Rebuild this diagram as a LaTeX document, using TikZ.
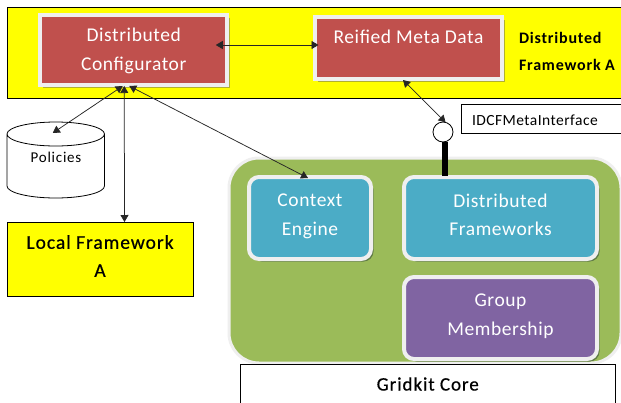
\documentclass[tikz,border=0pt]{standalone}
\usepackage{fontspec}
\setmainfont{Carlito}
\newfontfamily\widefont[LetterSpace=3]{Carlito}
\newfontfamily\widerfont[LetterSpace=5]{Carlito}
\newfontfamily\heavyfont[LetterSpace=5,FakeBold=0.6]{Carlito}
\usetikzlibrary{arrows.meta,shadows}
\definecolor{cred}{HTML}{C0504D}
\definecolor{cblue}{HTML}{4BACC6}
\definecolor{cpurple}{HTML}{8064A2}
\definecolor{cgreen}{HTML}{9BBB59}
\definecolor{rim}{HTML}{EFEFEF}
\definecolor{cyellow}{HTML}{FFFF00}
\definecolor{redshadow}{HTML}{B0B030}
\definecolor{softshadow}{HTML}{5F7A45}
\tikzset{
  card/.style={draw=rim,line width=4pt,inner sep=0pt,outer sep=0pt,text=white,align=center,
    font=\widefont\fontsize{19.5}{28.5}\selectfont},
  redcard/.style={card,rectangle,fill=cred,general shadow={shadow xshift=2.5pt,shadow yshift=-2.5pt,fill=redshadow}},
  softcard/.style={card,rectangle,rounded corners=10pt,text depth=7pt,general shadow={shadow xshift=2.5pt,shadow yshift=-2.5pt,fill=softshadow}},
  plainbox/.style={draw=black,line width=.8pt,inner sep=0pt,outer sep=0pt,align=center,text=black},
  link/.style={draw=black!85,line width=.75pt,{Triangle[length=7pt,width=8pt]}-{Triangle[length=7pt,width=8pt]}},
}
\begin{document}
\begin{tikzpicture}[x=1pt,y=-1pt]
\useasboundingbox (0,0) rectangle (621,402);
\clip (0,0) rectangle (621,402);
\fill[white] (0,0) rectangle (621,402);
\node[plainbox,fill=cyellow,rectangle,minimum width=620pt,minimum height=91pt] (band) at (317,52.5) {};
\node[plainbox,draw=none,anchor=west,font=\widerfont\fontsize{16}{27}\selectfont\bfseries,align=left] (bandlabel) at (519,51) {Distributed\\Framework A};
\node[redcard,minimum width=187pt,minimum height=70pt,text height=44pt] (dc) at (133.75,50) {Distributed\\Configurator};
\node[redcard,minimum width=187pt,minimum height=62pt,text height=47pt] (rm) at (408.5,48) {Reified Meta Data\\\mbox{}};
\draw[draw=black,line width=.8pt,fill=white] (7,134) -- (7,186) arc[start angle=180,end angle=360,x radius=48.75,y radius=-12] -- (104.5,134) arc[start angle=0,end angle=360,x radius=48.75,y radius=-12] arc[start angle=0,end angle=-180,x radius=48.75,y radius=-12];
\node[plainbox,draw=none,rectangle,minimum width=97pt,minimum height=76pt] (policies) at (55.75,160) {};
\node[plainbox,draw=none,font=\widerfont\fontsize{15}{17}\selectfont] (policiestext) at (56,157.5) {Policies};
\node[plainbox,fill=cyellow,rectangle,minimum width=186pt,minimum height=74pt,text depth=6pt,font=\heavyfont\fontsize{19.5}{28}\selectfont] (lf) at (100,259) {Local Framework\\A};
\node[plainbox,fill=white,rectangle,minimum width=170pt,minimum height=29pt,anchor=west,text height=14pt,font=\widefont\fontsize{15.5}{17}\selectfont,text width=159pt,align=left] (idcf) at (461,118.5) {\hspace*{5.5pt}IDCFMetaInterface};
\node[draw=rim,line width=3pt,fill=cgreen,rectangle,rounded corners=30pt,inner sep=0pt,minimum width=392pt,minimum height=205pt] (core) at (425,260.5) {};
\node[softcard,fill=cblue,minimum width=122pt,minimum height=82pt] (ce) at (310,218) {Context\\Engine};
\node[softcard,fill=cblue,minimum width=193pt,minimum height=82pt] (df) at (500.5,218) {Distributed\\Frameworks};
\node[softcard,fill=cpurple,minimum width=193pt,minimum height=82pt] (gm) at (500.5,318) {Group\\Membership};
\node[plainbox,fill=white,rectangle,minimum width=374.5pt,minimum height=40pt,font=\heavyfont\fontsize{19}{21}\selectfont] (gk) at (427.75,384) {Gridkit Core};
\node[circle,draw=black,line width=.8pt,fill=white,minimum size=20pt,inner sep=0pt,outer sep=0pt] (lol) at (443,132) {};
\draw[line width=6.5pt,draw=black] ([xshift=2pt]lol.south) -- ([xshift=-55.5pt,yshift=1pt]df.north);
\draw[link] ([xshift=-3pt,yshift=27pt]policies.center) -- ([xshift=-11pt,yshift=-1pt]dc.south);
\draw[link] ([xshift=24.5pt]lf.north) -- ([xshift=-9.5pt,yshift=-1pt]dc.south);
\draw[link] ([xshift=-2pt,yshift=-1pt]ce.north) -- ([xshift=-4.5pt,yshift=-1pt]dc.south);
\draw[link] ([xshift=-11.5pt,yshift=5pt]dc.east) -- ([xshift=3.5pt,yshift=3pt]rm.west);
\draw[link] ([xshift=-5.5pt,yshift=-1pt]rm.south) -- (lol.75);
\end{tikzpicture}
\end{document}
